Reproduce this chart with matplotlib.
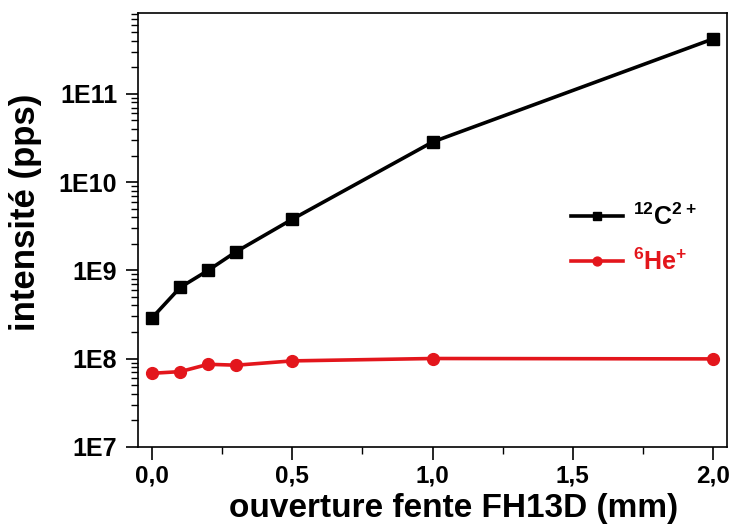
import numpy as np
import matplotlib
matplotlib.use('Agg')
import matplotlib.pyplot as plt
from matplotlib.ticker import FixedLocator, LogLocator, NullFormatter

plt.rcParams['font.family'] = ['Liberation Sans', 'DejaVu Sans']
plt.rcParams['font.weight'] = 'bold'
plt.rcParams['mathtext.fontset'] = 'custom'
plt.rcParams['mathtext.rm'] = 'Liberation Sans:bold'
plt.rcParams['mathtext.bf'] = 'Liberation Sans:bold'
plt.rcParams['mathtext.default'] = 'bf'

# slit opening (mm) and beam intensities (pps)
x_open = [0.0, 0.1, 0.2, 0.3, 0.5, 1.0, 2.0]
carbon = [2.9e8, 6.4e8, 1.0e9, 1.63e9, 3.8e9, 2.85e10, 4.2e11]
helium = [6.8e7, 7.1e7, 8.6e7, 8.4e7, 9.4e7, 1.0e8, 9.9e7]

x_ticks = [0.0, 0.5, 1.0, 1.5, 2.0]
x_ticklabels = ['0,0', '0,5', '1,0', '1,5', '2,0']
y_ticks = [1e7, 1e8, 1e9, 1e10, 1e11]
y_ticklabels = ['1E7', '1E8', '1E9', '1E10', '1E11']

red = '#e3161c'

fig = plt.figure(figsize=(7.31, 5.24), dpi=100)
ax = fig.add_axes([0.189, 0.1475, 0.8055, 0.8271])

ax.plot(x_open, carbon, color='black', lw=2.6, marker='s', ms=8.5,
        label=r'$^{12}$C$^{2+}$')
ax.plot(x_open, helium, color=red, lw=2.6, marker='o', ms=8.5,
        label=r'$^{6}$He$^{+}$')

ax.set_yscale('log')
ax.set_xlim(-0.05, 2.05)
ax.set_ylim(1e7, 8.2e11)

ax.xaxis.set_major_locator(FixedLocator(x_ticks))
ax.set_xticklabels(x_ticklabels)
ax.xaxis.set_minor_locator(FixedLocator([0.25, 0.75, 1.25, 1.75]))
ax.yaxis.set_major_locator(FixedLocator(y_ticks))
ax.set_yticklabels(y_ticklabels)
ax.yaxis.set_minor_locator(LogLocator(base=10, subs=np.arange(2, 10)))
ax.yaxis.set_minor_formatter(NullFormatter())

ax.tick_params(which='major', direction='out', length=9, width=1.2)
ax.tick_params(axis='y', which='major', labelsize=18, pad=6)
ax.tick_params(axis='x', which='major', labelsize=17.5, pad=4)
ax.tick_params(which='minor', direction='out', length=5, width=1.0)
ax.tick_params(top=False, right=False)
for s in ax.spines.values():
    s.set_linewidth(1.2)

ax.set_xlabel('ouverture fente FH13D (mm)', fontsize=24, fontweight='bold',
              va='baseline')
ax.xaxis.set_label_coords(0.535, -0.163)
ax.set_ylabel('intensité (pps)', fontsize=25, fontweight='bold')
ax.yaxis.set_label_coords(-0.163, 0.54)

leg = ax.legend(loc='center', bbox_to_anchor=(0.842, 0.479), frameon=False,
                fontsize=18, handlelength=2.1, labelspacing=0.75,
                handletextpad=0.4, markerscale=0.75)
leg.get_texts()[1].set_color(red)

fig.savefig('out.png', dpi=100)
